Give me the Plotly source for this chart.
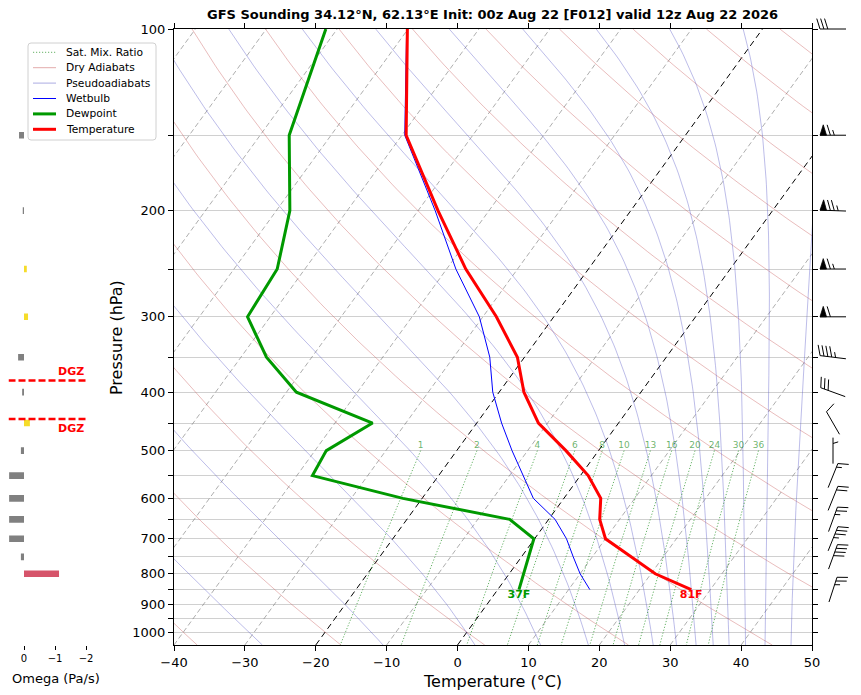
import numpy as np
import plotly.graph_objects as go

# ---- sounding values ----
pressure = [100, 150, 200, 250, 300, 350, 400, 450, 500, 550, 600, 650, 700, 750, 800, 850]
temperature = [-70.1, -59.4, -47.2, -37.3, -28.1, -21.0, -16.5, -11.3, -4.6, 1.1, 5.2, 7.2, 10.0, 15.5, 20.6, 27.3]
dewpoint = [-81.6, -75.9, -68.1, -63.9, -63.2, -56.4, -48.6, -34.7, -38.4, -37.8, -22.7, -5.5, -0.1, 1.0, 2.0, 3.0]
wetbulb = [-70.2, -59.6, -47.6, -38.7, -30.5, -24.9, -20.9, -16.5, -12.2, -8.1, -4.3, 0.9, 4.5, 7.3, 10.0, 13.0]

omega_levels = [100, 150, 200, 250, 300, 350, 400, 450, 500, 550, 600, 650, 700, 750, 800]
omega = [0.0, 0.16, 0.04, -0.09, -0.13, 0.19, 0.06, -0.19, 0.10, 0.48, 0.48, 0.48, 0.48, 0.10, -1.13]

barb_levels = [100, 150, 200, 250, 300, 350, 400, 450, 500, 550, 600, 650, 700, 750, 850]
wind_dir = [270, 270, 272, 270, 270, 277, 290, 330, 360, 22, 22, 20, 22, 20, 18]
wind_kt = [30, 65, 75, 65, 60, 45, 30, 10, 5, 15, 20, 25, 35, 40, 25]

mix_ratios = [1, 2, 4, 6, 8, 10, 13, 16, 20, 24, 30, 36]
temp_ticks = list(range(-40, 51, 10))
pres_ticks = list(range(100, 1001, 50))

title = "GFS Sounding 34.12°N, 62.13°E Init: 00z Aug 22 [F012] valid 12z Aug 22 2026"

# colours / styles shared by the lines and the hand-drawn legend
STY_MIX = dict(color="rgba(0,128,0,0.6)", width=1, dash="1.2px,1.8px")
STY_DRY = dict(color="rgba(200,90,90,0.5)", width=0.8)
STY_MOIST = dict(color="rgba(90,90,200,0.5)", width=0.8)
STY_WB = dict(color="blue", width=1)
STY_TD = dict(color="#009900", width=3)
STY_T = dict(color="red", width=3)

# ---- page geometry, in window pixels (the page body adds an 8 px margin) ----
PAGE_OFF = 8
W, H = 861 - PAGE_OFF, 695 - PAGE_OFF
LEFT, RIGHT, TOP, BOTTOM = 174, 812, 29, 645


def px_x(px):
    return (px - PAGE_OFF) / W


def px_y(py):
    return 1 - (py - PAGE_OFF) / H


# ---- skew-T transform ----
P_BOT, P_TOP = 1050.0, 100.0
LOG_SPAN = np.log10(P_BOT) - np.log10(P_TOP)
DEC_PX = (BOTTOM - TOP) / LOG_SPAN          # pixels per decade of pressure
SKEW = 90 * np.tan(np.radians(35))          # shift over the full height (degC)


def skew_x(t, p):
    p = np.asarray(p, dtype=float)
    return np.asarray(t, dtype=float) + SKEW * (np.log10(P_BOT) - np.log10(p)) / LOG_SPAN


def minus(v):
    return str(v).replace("-", "\u2212")


# ---- thermodynamic background lines ----
RD, CP, LV, EPS = 287.04, 1005.7, 2.501e6, 0.622
KAPPA = RD / CP
p_fine = np.logspace(np.log10(P_TOP), np.log10(P_BOT), 120)


def sat_mix(tk, p):
    es = 6.112 * np.exp(17.67 * (tk - 273.15) / (tk - 29.65))
    return EPS * es / (p - es)


def moist_rate(tk, lnp):
    p = np.exp(lnp)
    rs = sat_mix(tk, p)
    return (RD * tk + LV * rs) / (CP + LV * LV * rs * EPS / (RD * tk * tk))


def pseudoadiabat(t_top):
    lnp = np.log(p_fine)
    out = [t_top]
    t = t_top
    for i in range(len(lnp) - 1):
        h = lnp[i + 1] - lnp[i]
        k1 = moist_rate(t, lnp[i])
        k2 = moist_rate(t + h / 2 * k1, lnp[i] + h / 2)
        k3 = moist_rate(t + h / 2 * k2, lnp[i] + h / 2)
        k4 = moist_rate(t + h * k3, lnp[i] + h)
        t = t + h / 6 * (k1 + 2 * k2 + 2 * k3 + k4)
        out.append(t)
    return np.array(out) - 273.15


def joined(lines):
    xs, ys = [], []
    for x, y in lines:
        xs += [float(v) for v in x] + [None]
        ys += [float(v) for v in y] + [None]
    return xs, ys


fig = go.Figure()

# isotherms
grey_iso = [(skew_x([t, t], [P_BOT, P_TOP]), [P_BOT, P_TOP]) for t in range(-130, 51, 10) if t not in (0, -20)]
black_iso = [(skew_x([t, t], [P_BOT, P_TOP]), [P_BOT, P_TOP]) for t in (-20, 0)]
x, y = joined(grey_iso)
fig.add_trace(go.Scatter(x=x, y=y, mode="lines", hoverinfo="skip",
                         line=dict(color="rgba(120,120,120,0.6)", width=1, dash="5px,3px")))
x, y = joined(black_iso)
fig.add_trace(go.Scatter(x=x, y=y, mode="lines", hoverinfo="skip",
                         line=dict(color="black", width=1, dash="6px,4px")))

# dry adiabats
dry = []
for theta_c in range(-40, 301, 20):
    t = (theta_c + 273.15) * (p_fine / 1000.0) ** KAPPA - 273.15
    dry.append((skew_x(t, p_fine), p_fine))
x, y = joined(dry)
fig.add_trace(go.Scatter(x=x, y=y, mode="lines", hoverinfo="skip", line=STY_DRY))

# pseudoadiabats (labelled by their temperature at the top of the chart)
moist = []
for theta_top in np.arange(243.15, 504, 20):
    t = pseudoadiabat(theta_top * (P_TOP / 1000.0) ** KAPPA)
    moist.append((skew_x(t, p_fine), p_fine))
x, y = joined(moist)
fig.add_trace(go.Scatter(x=x, y=y, mode="lines", hoverinfo="skip", line=STY_MOIST))

# saturation mixing ratio lines
p_mix = np.logspace(np.log10(500), np.log10(P_BOT), 20)
mix = []
label_x = []
for r in mix_ratios:
    e = r * p_mix / (622.0 + r)
    lg = np.log(e / 6.112)
    td = 243.5 * lg / (17.67 - lg)
    sx = skew_x(td, p_mix)
    mix.append((sx, p_mix))
    label_x.append(float(sx[0]))
x, y = joined(mix)
fig.add_trace(go.Scatter(x=x, y=y, mode="lines", hoverinfo="skip", line=STY_MIX))
fig.add_trace(go.Scatter(x=label_x, y=[500] * len(mix_ratios), mode="text",
                         text=[str(r) for r in mix_ratios], textposition="top center",
                         textfont=dict(size=9, color="rgba(0,128,0,0.6)"), hoverinfo="skip"))

# sounding profiles
fig.add_trace(go.Scatter(x=skew_x(wetbulb, pressure), y=pressure, mode="lines", name="Wetbulb", line=STY_WB))
fig.add_trace(go.Scatter(x=skew_x(dewpoint, pressure), y=pressure, mode="lines", name="Dewpoint", line=STY_TD))
fig.add_trace(go.Scatter(x=skew_x(temperature, pressure), y=pressure, mode="lines", name="Temperature", line=STY_T))

# surface labels in Fahrenheit
for prof, col in ((temperature, "red"), (dewpoint, "#009900")):
    f = round(prof[-1] * 9 / 5 + 32)
    fig.add_trace(go.Scatter(x=[float(skew_x(prof[-1], pressure[-1]))], y=[pressure[-1]], mode="text",
                             text=[f"<b>{f}F</b>"], textposition="bottom center",
                             textfont=dict(size=11, color=col), cliponaxis=False, hoverinfo="skip"))

# ---- omega panel ----
half = 10 ** (3.3 / DEC_PX)
for p, w in zip(omega_levels, omega):
    if w >= 0:
        col = "#808080"
    elif w > -0.5:
        col = "#f5dc2a"
    else:
        col = "#d6546a"
    fig.add_trace(go.Scatter(x=[0, w, w, 0, 0], y=[p / half, p / half, p * half, p * half, p / half],
                             mode="lines", fill="toself", fillcolor=col, line=dict(width=0),
                             hoverinfo="skip", xaxis="x2", yaxis="y2"))

annotations = []

# dendritic growth zone (-12 to -18 C) from the temperature profile
logp = np.log10(pressure)
for t_dgz, shift in ((-18, 9), (-12, -10)):
    p_dgz = 10 ** np.interp(t_dgz, temperature, logp)
    fig.add_trace(go.Scatter(x=[0.5, -2.0], y=[p_dgz, p_dgz], mode="lines",
                             line=dict(color="red", width=2.5, dash="7px,3px"), xaxis="x2", yaxis="y2",
                             hoverinfo="skip"))
    annotations.append(dict(text="<b>DGZ</b>", x=-2.0, y=float(np.log10(p_dgz)), xref="x2", yref="y2",
                            xanchor="right", yanchor="middle", yshift=shift, showarrow=False,
                            font=dict(size=11, color="red")))

# ---- wind barbs (drawn in pixel units, pivot in the middle) ----
BARB_X, L = 833.0, 26.0
bx, by = [], []


def to_p(p, dy):
    return p * 10 ** (dy / DEC_PX)


for p, wd, ws in zip(barb_levels, wind_dir, wind_kt):
    th = np.radians(wd)
    d = np.array([np.sin(th), -np.cos(th)])
    n = np.array([-d[1], d[0]])
    hgt, wid, sp = 0.4 * L, 0.25 * L, 0.15 * L
    tip, tail = d * L / 2, -d * L / 2
    spd = int(5 * round(ws / 5))
    n50, rem = divmod(spd, 50)
    n10, rem = divmod(rem, 10)
    n5 = rem // 5
    segs = [[tail, tip]]
    flags = []
    pos = 0.0
    for i in range(n50):
        if pos != 0:
            pos -= sp / 2
        a = tip - d * pos
        flags.append([a, a + n * hgt - d * wid / 2, a - d * wid, a])
        pos += wid + sp
    for i in range(n10):
        a = tip - d * pos
        segs.append([a, a + n * hgt + d * wid / 2])
        pos += sp
    if n5:
        if pos == 0:
            pos += 1.5 * sp
        a = tip - d * pos
        segs.append([a, a + n * hgt / 2 + d * wid / 4])
    for seg in segs:
        bx += [BARB_X + v[0] for v in seg] + [None]
        by += [to_p(p, v[1]) for v in seg] + [None]
    for fl in flags:
        fig.add_trace(go.Scatter(x=[BARB_X + v[0] for v in fl], y=[to_p(p, v[1]) for v in fl],
                                 mode="lines", fill="toself", fillcolor="black",
                                 line=dict(color="black", width=0.8),
                                 xaxis="x3", yaxis="y3", hoverinfo="skip"))
fig.add_trace(go.Scatter(x=bx, y=by, mode="lines", line=dict(color="black", width=1),
                         xaxis="x3", yaxis="y3", hoverinfo="skip"))

# ---- legend box drawn by hand (matplotlib-like compact rows) ----
legend_items = [("Sat. Mix. Ratio", STY_MIX), ("Dry Adiabats", STY_DRY), ("Pseudoadiabats", STY_MOIST),
                ("Wetbulb", STY_WB), ("Dewpoint", STY_TD), ("Temperature", STY_T)]
LX0, LX1, LY0, LY1, RAD = 28, 156, 43, 140, 3
box = (f"M {px_x(LX0 + RAD)},{px_y(LY0)} L {px_x(LX1 - RAD)},{px_y(LY0)} "
       f"Q {px_x(LX1)},{px_y(LY0)} {px_x(LX1)},{px_y(LY0 + RAD)} L {px_x(LX1)},{px_y(LY1 - RAD)} "
       f"Q {px_x(LX1)},{px_y(LY1)} {px_x(LX1 - RAD)},{px_y(LY1)} L {px_x(LX0 + RAD)},{px_y(LY1)} "
       f"Q {px_x(LX0)},{px_y(LY1)} {px_x(LX0)},{px_y(LY1 - RAD)} L {px_x(LX0)},{px_y(LY0 + RAD)} "
       f"Q {px_x(LX0)},{px_y(LY0)} {px_x(LX0 + RAD)},{px_y(LY0)} Z")
shapes = [dict(type="path", path=box, xref="paper", yref="paper", layer="above",
               fillcolor="rgba(255,255,255,0.85)", line=dict(color="#d0d0d0", width=1))]
for i, (name, sty) in enumerate(legend_items):
    row = 52.3 + 15.4 * i
    shapes.append(dict(type="line", xref="paper", yref="paper", layer="above",
                       x0=px_x(33), x1=px_x(56), y0=px_y(row), y1=px_y(row),
                       line=dict(color=sty["color"], width=max(sty["width"], 1), dash=sty.get("dash", "solid"))))
    annotations.append(dict(text=name, x=px_x(64), y=px_y(row), xref="paper", yref="paper",
                            showarrow=False, font=dict(size=10.7), xanchor="left", yanchor="middle"))

annotations += [
    dict(text=f"<b>{title}</b>", x=px_x((LEFT + RIGHT) / 2), y=px_y(15), xref="paper", yref="paper",
         showarrow=False, font=dict(size=13), xanchor="center", yanchor="middle"),
    dict(text="Temperature (°C)", x=px_x((LEFT + RIGHT) / 2), y=px_y(681), xref="paper", yref="paper",
         showarrow=False, font=dict(size=16), xanchor="center", yanchor="middle"),
    dict(text="Pressure (hPa)", x=px_x(116), y=px_y((TOP + BOTTOM) / 2), xref="paper", yref="paper",
         showarrow=False, font=dict(size=16), textangle=-90, xanchor="center", yanchor="middle"),
    dict(text="Omega (Pa/s)", x=px_x(56), y=px_y(678), xref="paper", yref="paper",
         showarrow=False, font=dict(size=13), xanchor="center", yanchor="middle"),
]

# ---- layout ----
main_y = [px_y(BOTTOM), px_y(TOP)]
log_range = [np.log10(P_BOT), np.log10(P_TOP)]
full_range = [np.log10(P_TOP) + (695 - TOP) / DEC_PX, np.log10(P_TOP) - (TOP - PAGE_OFF) / DEC_PX]
hidden = dict(visible=False, automargin=False, showgrid=False, zeroline=False)

fig.update_layout(
    template="none",
    width=W, height=H, autosize=False, showlegend=False,
    margin=dict(l=0, r=0, t=0, b=0, pad=0),
    paper_bgcolor="white", plot_bgcolor="white",
    font=dict(family="DejaVu Sans", size=13, color="black"),
    xaxis=dict(domain=[px_x(LEFT), px_x(RIGHT)], anchor="y", range=[-40, 50], automargin=False,
               tickvals=temp_ticks, ticktext=[minus(v) for v in temp_ticks],
               ticks="outside", ticklen=5, tickcolor="black", showline=True, linecolor="black",
               linewidth=1, mirror="ticks", showgrid=False, zeroline=False, tickfont=dict(size=13)),
    yaxis=dict(domain=main_y, anchor="x", type="log", range=log_range, automargin=False,
               tickvals=pres_ticks, ticktext=[str(v) if v % 100 == 0 else "" for v in pres_ticks],
               ticks="outside", ticklen=5, tickcolor="black", showline=True, linecolor="black",
               linewidth=1, mirror="ticks", showgrid=True, gridcolor="#d0d0d0", gridwidth=1,
               zeroline=False, tickfont=dict(size=13)),
    xaxis2=dict(domain=[px_x(8.5), px_x(86)], anchor="y2", range=[0.5, -2.0], automargin=False,
                tickvals=[0, -1, -2], ticktext=["0", "\u22121", "\u22122"], ticks="outside",
                ticklen=4, tickcolor="black", showline=False, showgrid=False, zeroline=False,
                tickfont=dict(size=10)),
    yaxis2=dict(domain=main_y, anchor="x2", type="log", range=log_range, **hidden),
    xaxis3=dict(domain=[px_x(RIGHT), 1.0], anchor="y3", range=[RIGHT, 861], **hidden),
    yaxis3=dict(domain=[0, 1], anchor="x3", type="log", range=full_range, **hidden),
    shapes=shapes,
    annotations=annotations,
)

fig.write_html("out.html")
